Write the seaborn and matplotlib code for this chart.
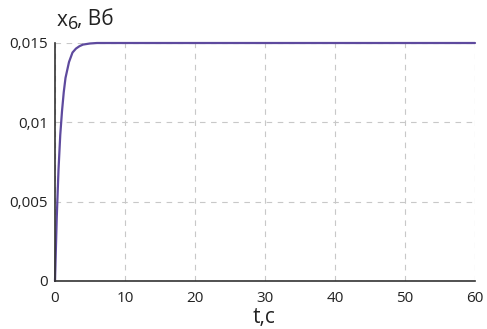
import matplotlib
matplotlib.use("Agg")
import matplotlib.pyplot as plt
import seaborn as sns
import pandas as pd

t_vals = [0, 0.25, 0.5, 0.75, 1.0, 1.25, 1.5, 2.0, 2.5, 3.0, 3.5, 4.0, 5.0, 6.0, 8.0, 10, 20, 30, 40, 50, 60]
x6_vals = [0.0, 0.0040, 0.0070, 0.0092, 0.0107, 0.0119, 0.0128, 0.0138, 0.0144, 0.01465, 0.0148, 0.0149, 0.01497, 0.0150, 0.0150, 0.0150, 0.0150, 0.0150, 0.0150, 0.0150, 0.0150]
x_ticks = [0, 10, 20, 30, 40, 50, 60]
y_ticks = [0, 0.005, 0.01, 0.015]
y_tick_labels = ["0", "0,005", "0,01", "0,015"]

sns.set_theme(style="white")
plt.rcParams['font.family'] = ['Open Sans', 'DejaVu Sans']

df = pd.DataFrame({"t": t_vals, "x6": x6_vals})

fig = plt.figure(figsize=(4.87, 3.29), dpi=100)
ax = fig.add_axes([55/487, 1-281/329, 420/487, 238/329])
sns.lineplot(data=df, x="t", y="x6", ax=ax, color="#5e4a9e", linewidth=1.6)
for ln in ax.get_lines():
    ln.set_clip_on(False)

ax.set_xlim(0, 60)
ax.set_ylim(0, 0.015)
ax.set_xticks(x_ticks)
ax.set_xticklabels([str(v) for v in x_ticks], fontsize=11)
ax.set_yticks(y_ticks)
ax.set_yticklabels(y_tick_labels, fontsize=11)
ax.grid(True, linestyle=(0, (5, 5)), color="#c8c8c8", linewidth=0.8)
ax.set_axisbelow(True)
for s in ["top", "right"]:
    ax.spines[s].set_visible(False)
for s in ["left", "bottom"]:
    ax.spines[s].set_color("#333333")
    ax.spines[s].set_linewidth(1.2)
ax.tick_params(axis="both", direction="in", length=3, width=1, color="#333333", labelcolor="#222222")
ax.tick_params(axis="x", pad=7)
ax.tick_params(axis="y", pad=5)
ax.set_xlabel("")
ax.set_ylabel("")

fig.text(57/487, 1-20/329, "x", fontsize=15, va="center", ha="left", color="#222222")
fig.text(68/487, 1-24/329, "6", fontsize=13, va="center", ha="left", color="#222222")
fig.text(77/487, 1-20/329, ", Вб", fontsize=15, va="center", ha="left", color="#222222")
fig.text(264/487, 1-318/329, "t,c", fontsize=15, va="center", ha="center", color="#222222")

fig.savefig("out.png", dpi=100)
